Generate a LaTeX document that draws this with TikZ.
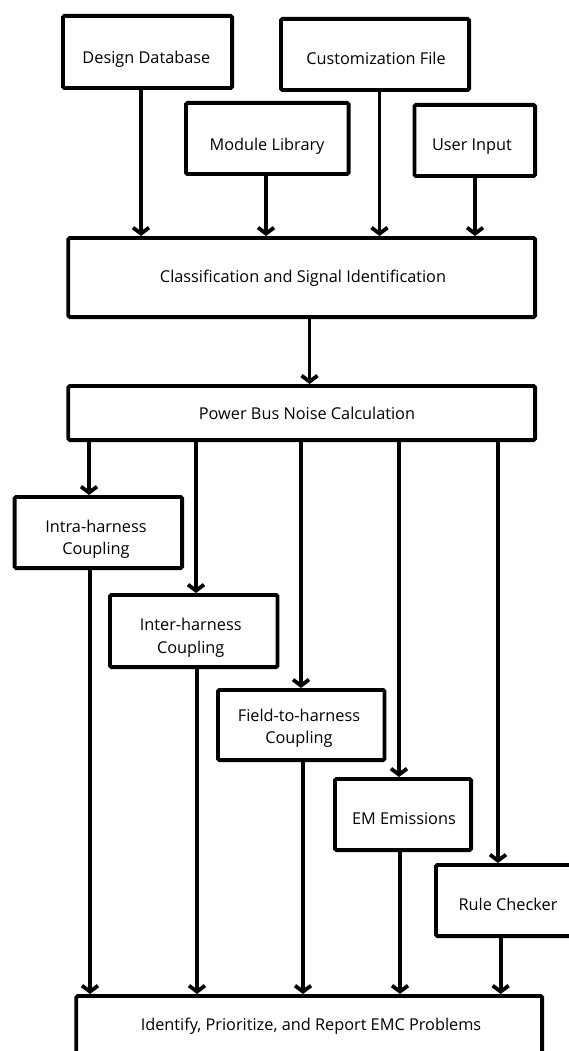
\documentclass[tikz,border=0pt]{standalone}
\usepackage{fontspec}
\setmainfont{Open Sans}
\usetikzlibrary{arrows.meta}
\tikzset{
  box/.style={draw=black, line width=3.8pt, rounded corners=1.5pt, fill=white, inner sep=0pt},
  txt/.style={inner sep=0pt, align=center, font=\fontsize{16.3}{22.5}\selectfont},
  arr/.style={line width=3.8pt, -{Straight Barb[length=6pt,width=16pt]}},
  ln/.style={line width=3.8pt}
}
\begin{document}
\begin{tikzpicture}[x=1pt,y=-1pt]
\useasboundingbox (0,0) rectangle (569,1051);
\clip (0,0) rectangle (569,1051);
% boxes
\node[box, minimum width=169.2pt, minimum height=72.2pt] (dd) at (147.5,52) {};
\node[box, minimum width=188.2pt, minimum height=71.2pt] (cf) at (375,54.5) {};
\node[box, minimum width=162.7pt, minimum height=71.2pt] (ml) at (267.25,138.5) {};
\node[box, minimum width=120.7pt, minimum height=71.2pt] (ui) at (474.75,140.5) {};
\node[box, minimum width=466.8pt, minimum height=79.2pt] (cl) at (301.7,277.5) {};
\node[box, minimum width=466.8pt, minimum height=54.2pt] (pb) at (301.7,413) {};
\node[box, minimum width=167.5pt, minimum height=71.2pt] (intra) at (98.35,532.5) {};
\node[box, minimum width=167.6pt, minimum height=72.2pt] (inter) at (193.7,631) {};
\node[box, minimum width=166.6pt, minimum height=70.2pt] (field) at (301.2,725) {};
\node[box, minimum width=136.2pt, minimum height=71.2pt] (em) at (403,814.5) {};
\node[box, minimum width=144.2pt, minimum height=71.2pt] (rc) at (508,900.5) {};
\node[box, minimum width=465.8pt, minimum height=66.2pt] (fin) at (309.2,1029) {};
% texts
\node[txt, anchor=base] (ddT) at (146.4,63.3) {Design Database};
\node[txt, anchor=base] (cfT) at (376,65) {Customization File};
\node[txt, anchor=base] (mlT) at (267,150.7) {Module Library};
\node[txt, anchor=base] (uiT) at (472,151) {User Input};
\node[txt, anchor=base] (clT) at (303,282.7) {Classification and Signal Identification};
\node[txt, anchor=base] (pbT) at (307,419) {Power Bus Noise Calculation};
\node[txt] (intraT) at (96,539.5) {Intra-harness\\Coupling};
\node[txt] (interT) at (190.7,637.9) {Inter-harness\\Coupling};
\node[txt] (fieldT) at (299,728.4) {Field-to-harness\\Coupling};
\node[txt, anchor=base] (emT) at (404,824) {EM Emissions};
\node[txt, anchor=base] (rcT) at (508,910.7) {Rule Checker};
\node[txt, anchor=base] (finT) at (311,1030) {Identify, Prioritize, and Report EMC Problems};
% column coordinates
\coordinate (a1) at (141,0);
\coordinate (a2) at (266,0);
\coordinate (a3) at (379.5,0);
\coordinate (a4) at (475,0);
\coordinate (a5) at (309.5,0);
\coordinate (b1) at (89,0);
\coordinate (b2) at (196,0);
\coordinate (b3) at (301,0);
\coordinate (b4) at (399,0);
\coordinate (b5) at (498,0);
\coordinate (c1) at (90,0);
\coordinate (c2) at (197,0);
\coordinate (c3) at (303,0);
\coordinate (c4) at (400,0);
\coordinate (c5) at (500.7,0);
% connectors
\draw[arr] (dd.south -| a1) -- (cl.north -| a1);
\draw[arr] (ml.south -| a2) -- (cl.north -| a2);
\draw[arr] (cf.south -| a3) -- (cl.north -| a3);
\draw[arr] (ui.south -| a4) -- (cl.north -| a4);
\draw[arr] (cl.south -| a5) -- (pb.north -| a5);
\draw[arr] (pb.south -| b1) -- (intra.north -| b1);
\draw[arr] (pb.south -| b2) -- (inter.north -| b2);
\draw[arr] (pb.south -| b3) -- (field.north -| b3);
\draw[arr] (pb.south -| b4) -- (em.north -| b4);
\draw[arr] (pb.south -| b5) -- (rc.north -| b5);
\draw[arr] (intra.south -| c1) -- (fin.north -| c1);
\draw[arr] (inter.south -| c2) -- (fin.north -| c2);
\draw[arr] (field.south -| c3) -- (fin.north -| c3);
\draw[arr] (em.south -| c4) -- (fin.north -| c4);
\draw[arr] (rc.south -| c5) -- (fin.north -| c5);
\end{tikzpicture}
\end{document}
